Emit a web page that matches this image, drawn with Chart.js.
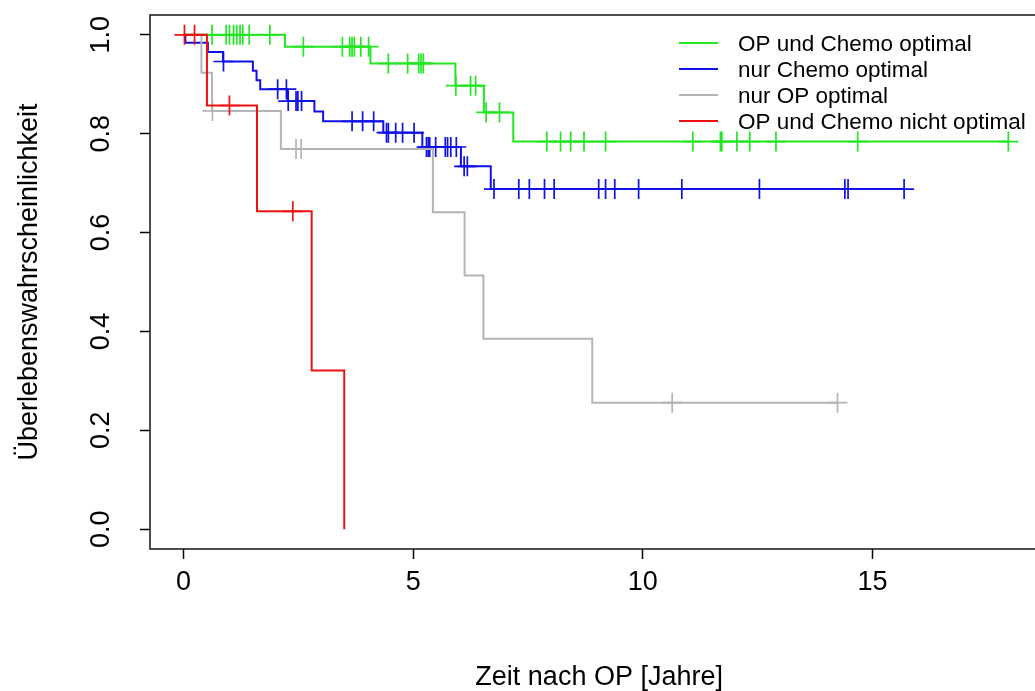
<!DOCTYPE html>
<html><head><meta charset="utf-8">
<script src="https://cdn.jsdelivr.net/npm/chart.js@4.4.1/dist/chart.umd.min.js"></script>
<style>
html,body{margin:0;padding:0;background:#fff;overflow:hidden;width:1035px;height:691px}
#wrap{position:absolute;left:0;top:0;width:1060px;height:691px}
</style></head>
<body><div id="wrap"><canvas id="c" width="1060" height="691"></canvas></div>
<script>
// ---- data ----
const seriesLabels = ['OP und Chemo optimal','nur Chemo optimal','nur OP optimal','OP und Chemo nicht optimal'];
const seriesColors = ['#22e622','#1010e8','#b4b4b4','#ee1111'];

const greenTimes = [0, 2.21, 4.07, 5.92, 6.54, 7.18];
const greenSurv  = [1, 0.976, 0.942, 0.897, 0.843, 0.784];
const greenEnd   = 17.96;
const greenCensor = [0.62, 0.93, 1.0, 1.09, 1.16, 1.23, 1.29, 1.43, 1.88, 2.61, 3.46, 3.62, 3.67, 3.72, 3.86, 4.03,
  4.46, 4.88, 5.12, 5.17, 5.22, 5.93, 6.25, 6.36, 6.59, 6.88, 7.91, 8.21, 8.43, 8.72, 9.19,
  11.09, 11.69, 11.72, 12.05, 12.33, 12.90, 14.68, 17.96];

const blueTimes = [0, 0.04, 0.53, 0.86, 1.51, 1.59, 1.67, 2.27, 2.85, 3.04, 4.35, 5.20, 6.04, 6.69];
const blueSurv  = [1, 0.984, 0.965, 0.946, 0.927, 0.908, 0.890, 0.866, 0.845, 0.825, 0.802, 0.773, 0.734, 0.688];
const blueEnd   = 15.69;
const blueCensor = [0.87, 2.05, 2.24, 2.28, 2.45, 2.49, 2.57, 3.67, 3.90, 4.14, 4.42, 4.46, 4.62, 4.77, 5.02,
  5.29, 5.33, 5.36, 5.49, 5.70, 5.75, 5.82, 5.94, 6.11, 6.18, 6.76, 7.30, 7.53, 7.86, 8.07,
  9.04, 9.19, 9.39, 9.91, 10.85, 12.54, 14.40, 14.47, 15.69];

const grayTimes = [0, 0.39, 0.62, 2.12, 5.43, 6.12, 6.53, 8.90];
const graySurv  = [1, 0.923, 0.846, 0.769, 0.641, 0.513, 0.385, 0.256];
const grayEnd   = 14.24;
const grayCensor = [0.63, 2.45, 2.56, 10.64, 14.24];

const redTimes = [0, 0.51, 1.60, 2.79, 3.50];
const redSurv  = [1, 0.857, 0.643, 0.321, 0];
const redEnd   = 3.50;
const redCensor = [0.02, 0.24, 1.00, 2.38];

const xTicks = [0, 5, 10, 15];
const xTickLabels = ['0', '5', '10', '15'];
const yTicks = [0, 0.2, 0.4, 0.6, 0.8, 1.0];
const yTickLabels = ['0.0', '0.2', '0.4', '0.6', '0.8', '1.0'];

const FONT = "'Liberation Sans', Arial, Helvetica, sans-serif";
Chart.defaults.font.family = FONT;
Chart.defaults.color = '#000';

function survAt(times, surv, t) {
  let s = surv[0];
  for (let i = 0; i < times.length; i++) if (times[i] <= t) s = surv[i];
  return s;
}
function curve(times, surv, end) {
  const pts = times.map((t, i) => ({x: t, y: surv[i]}));
  if (end > times[times.length - 1]) pts.push({x: end, y: surv[surv.length - 1]});
  return pts;
}
function censorPts(times, surv, cens) {
  return cens.map(t => ({x: t, y: survAt(times, surv, t)}));
}

const groups = [
  [greenTimes, greenSurv, greenEnd, greenCensor],
  [blueTimes, blueSurv, blueEnd, blueCensor],
  [grayTimes, graySurv, grayEnd, grayCensor],
  [redTimes, redSurv, redEnd, redCensor]
];
const drawOrder = [4, 3, 2, 1]; // lower = on top
const datasets = [];
groups.forEach((g, i) => {
  datasets.push({
    label: seriesLabels[i], data: curve(g[0], g[1], g[2]), borderColor: seriesColors[i],
    borderWidth: 2, pointRadius: 0, stepped: 'before', fill: false, order: drawOrder[i], isCurve: true
  });
  datasets.push({
    label: seriesLabels[i] + ' (zensiert)', data: censorPts(g[0], g[1], g[3]), showLine: false,
    pointStyle: 'cross', pointRadius: 10, pointBorderWidth: 1.7, pointBorderColor: seriesColors[i],
    pointBackgroundColor: seriesColors[i], order: drawOrder[i], isCurve: false
  });
});

const boxAndLabels = {
  id: 'boxAndLabels',
  afterDatasetsDraw(chart) {
    const {ctx, chartArea: a, scales} = chart;
    ctx.save();
    ctx.strokeStyle = '#222';
    ctx.lineWidth = 1.6;
    ctx.strokeRect(a.left, a.top, a.right - a.left, a.bottom - a.top);
    // rotated y tick labels
    ctx.fillStyle = '#000';
    ctx.font = '27px ' + FONT;
    ctx.textAlign = 'center';
    ctx.textBaseline = 'middle';
    yTicks.forEach((v, i) => {
      const y = scales.y.getPixelForValue(v);
      ctx.save();
      ctx.translate(102, y);
      ctx.rotate(-Math.PI / 2);
      ctx.fillText(yTickLabels[i], 0, 0);
      ctx.restore();
    });
    // legend
    const lx0 = 679, lx1 = 718, tx = 738, ly0 = 43, dy = 26;
    ctx.font = '22.5px ' + FONT;
    ctx.textAlign = 'left';
    let row = 0;
    chart.data.datasets.forEach(ds => {
      if (!ds.isCurve) return;
      const y = ly0 + row * dy;
      ctx.strokeStyle = ds.borderColor;
      ctx.lineWidth = 2;
      ctx.beginPath(); ctx.moveTo(lx0, y); ctx.lineTo(lx1, y); ctx.stroke();
      ctx.fillStyle = '#000';
      ctx.fillText(ds.label, tx, y + 2);
      row++;
    });
    ctx.restore();
  }
};

new Chart(document.getElementById('c'), {
  type: 'line',
  data: {datasets},
  options: {
    responsive: false, animation: false, devicePixelRatio: 1,
    layout: {padding: {top: 15, right: 10, left: 0, bottom: 0}},
    plugins: {legend: {display: false}, tooltip: {enabled: false}},
    scales: {
      x: {
        type: 'linear', min: -0.73, max: 18.83,
        afterBuildTicks: s => { s.ticks = xTicks.map(v => ({value: v})); },
        afterFit: s => { s.height = 142; s.paddingLeft = 0; s.paddingRight = 0; },
        grid: {drawOnChartArea: false, drawTicks: true, tickLength: 10, color: '#000', tickColor: '#000', tickWidth: 1.5},
        border: {display: false},
        ticks: {font: {size: 27}, color: '#000', padding: 7, maxRotation: 0, autoSkip: false,
          callback: (v, i) => xTickLabels[i]},
        title: {display: true, text: 'Zeit nach OP [Jahre]', color: '#000',
          font: {size: 27, lineHeight: 1}, padding: {top: 0, bottom: 0}}
      },
      y: {
        type: 'linear', min: -0.04, max: 1.04,
        afterBuildTicks: s => { s.ticks = yTicks.map(v => ({value: v})); },
        afterFit: s => { s.width = 150; s.paddingTop = 0; s.paddingBottom = 0; },
        grid: {drawOnChartArea: false, drawTicks: true, tickLength: 10, color: '#000', tickColor: '#000', tickWidth: 1.5},
        border: {display: false},
        ticks: {font: {size: 1}, color: 'rgba(0,0,0,0)', callback: (v, i) => yTickLabels[i]},
        title: {display: true, text: 'Überlebenswahrscheinlichkeit', color: '#000',
          font: {size: 27, lineHeight: 1}, padding: {top: 16, bottom: 0}}
      }
    }
  },
  plugins: [boxAndLabels]
});
</script>
</body></html>
